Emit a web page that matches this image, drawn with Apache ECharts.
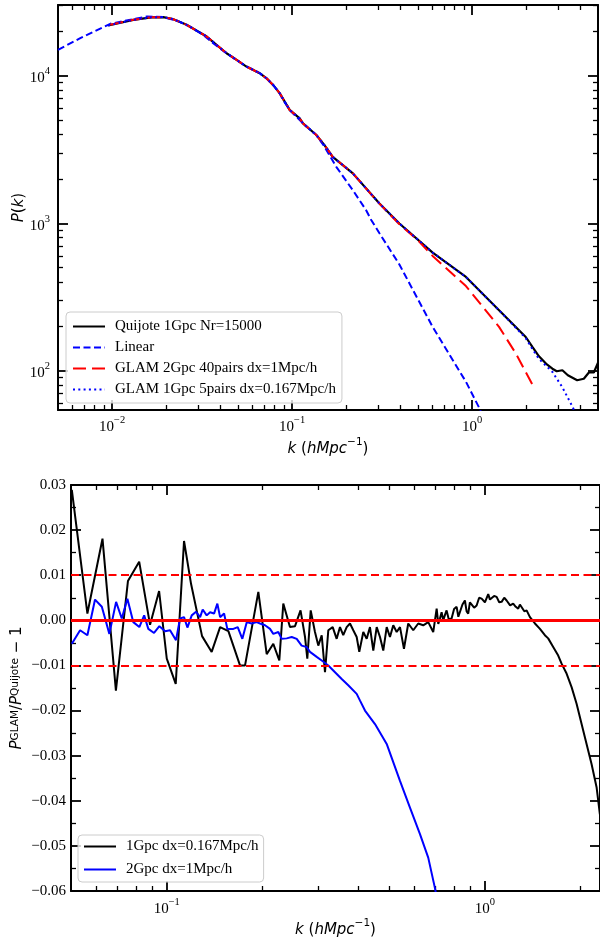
<!DOCTYPE html>
<html><head><meta charset="utf-8">
<script src="https://cdn.jsdelivr.net/npm/echarts@6/dist/echarts.min.js"></script>
<style>html,body{margin:0;padding:0;background:#fff}#c{width:600px;height:941px}</style>
</head><body><div id="c"></div>
<script>
// ---------------- DATA (top panel: P(k)) ----------------
const kLinear = [0.005, 0.00665, 0.00975, 0.0131, 0.0156, 0.0192, 0.0230, 0.0270, 0.0320, 0.0364, 0.0420, 0.0491, 0.0557, 0.0607, 0.0660, 0.0720, 0.0783, 0.0853, 0.0889, 0.0968, 0.1077, 0.1148, 0.1362, 0.1514, 0.1758, 0.2173, 0.2576, 0.2748, 0.3054, 0.394, 0.603, 0.923, 1.093, 1.15];
const pLinear = [15040, 18030, 22590, 24300, 25290, 25080, 23700, 21640, 19000, 16680, 14600, 12840, 11570, 11050, 10430, 9640, 8690, 7620, 6900, 5880, 5150, 4760, 3970, 3300, 2415, 1675, 1225, 1053, 855, 525, 198, 84, 56, 48];

const kQuijote = [0.0095, 0.0131, 0.0165, 0.0192, 0.0217, 0.0259, 0.0335, 0.0432, 0.0491, 0.0557, 0.0660, 0.0720, 0.0783, 0.0853, 0.0968, 0.1100, 0.1148, 0.1362, 0.1514, 0.1680, 0.2173, 0.3054, 0.3940, 0.6030, 0.9230, 1.410, 1.984, 2.160, 2.350, 2.600, 2.790, 2.950, 3.170, 3.400, 3.830, 4.170, 4.450, 4.740, 5.000];
const pQuijote = [22000, 24040, 25000, 25080, 24330, 22230, 18500, 14260, 12840, 11570, 10430, 9640, 8690, 7620, 5880, 5150, 4760, 3970, 3380, 2825, 2180, 1362, 996, 632, 432, 257, 169, 145, 125, 110, 103, 99, 100.5, 93, 86, 88, 97, 97, 113];

const kGlam2 = [0.00975, 0.0131, 0.0165, 0.0192, 0.0217, 0.0259, 0.0335, 0.0432, 0.0491, 0.0557, 0.0660, 0.0720, 0.0783, 0.0853, 0.0968, 0.1100, 0.1148, 0.1362, 0.1514, 0.1680, 0.2173, 0.3054, 0.3940, 0.5000, 0.6030, 0.9230, 1.410, 1.745, 2.200];
const pGlam2 = [22230, 24040, 25000, 25080, 24330, 22230, 18500, 14260, 12840, 11570, 10430, 9640, 8690, 7620, 5880, 5150, 4760, 3970, 3380, 2825, 2180, 1358, 985, 765, 600, 375, 198, 131, 77];

const kGlam1 = [0.0095, 0.0131, 0.0165, 0.0192, 0.0217, 0.0259, 0.0335, 0.0432, 0.0491, 0.0557, 0.0660, 0.0720, 0.0783, 0.0853, 0.0968, 0.1100, 0.1148, 0.1362, 0.1514, 0.1680, 0.2173, 0.3054, 0.3940, 0.6030, 0.9230, 1.410, 1.984, 2.160, 2.350, 2.790, 3.170, 3.630, 3.750];
const pGlam1 = [22000, 24040, 25000, 25080, 24330, 22230, 18500, 14260, 12840, 11570, 10430, 9640, 8690, 7620, 5880, 5150, 4760, 3970, 3380, 2825, 2180, 1362, 996, 632, 432, 257, 166, 140, 120, 98, 77, 56, 51];

// ---------------- DATA (bottom panel: ratio - 1) ----------------
const kRatio1 = [0.0503, 0.0563, 0.0628, 0.0692, 0.0755, 0.0819, 0.0886, 0.0946, 0.1000, 0.1067,
  0.1133, 0.1192, 0.1291, 0.1384, 0.1471, 0.1562, 0.1699, 0.1762, 0.1940, 0.2061,
  0.2162, 0.2258, 0.2324, 0.2439, 0.2530, 0.2633, 0.2720, 0.2765, 0.2834, 0.2923,
  0.2994, 0.3069, 0.3143, 0.3219, 0.3323, 0.3420, 0.3503, 0.3587, 0.3677, 0.3766,
  0.3857, 0.3953, 0.4028, 0.4147, 0.4250, 0.4352, 0.4458, 0.4569, 0.4679, 0.4792,
  0.4912, 0.5030, 0.5151, 0.5280, 0.5408, 0.5566, 0.5741, 0.5953, 0.6172, 0.6398,
  0.6635, 0.6879,
  0.7052, 0.7135, 0.7222, 0.7310, 0.7395, 0.7490, 0.7578, 0.7700, 0.7856, 0.8000,
  0.8149, 0.8250, 0.8346, 0.8500, 0.8652, 0.8760, 0.8862, 0.8970, 0.9083, 0.9250,
  0.9417, 0.9590, 0.9764, 1.0000, 1.0242, 1.0370, 1.0496, 1.0690, 1.0884, 1.1090,
  1.1286, 1.1500, 1.1701, 1.2000, 1.2272, 1.2500, 1.2724, 1.2880, 1.3041, 1.3300,
  1.3522, 1.3852, 1.4363, 1.4893, 1.5434, 1.5808, 1.6392, 1.6997,
  1.7418, 1.8059, 1.8726, 1.9415, 2.0617, 2.1644, 2.2437, 2.2983];
const ratio1 = [0.0289, 0.0015, 0.0181, -0.0156, 0.0087, 0.0130, -0.0010, 0.0065, -0.0085, -0.0141,
  0.0176, 0.0081, -0.0035, -0.0070, -0.0015, -0.0024, -0.0100, -0.0100, 0.0063, -0.0075,
  -0.0052, -0.0089, 0.0037, -0.0015, -0.0013, 0.0022, -0.0037, -0.0085, 0.0022, -0.0026,
  -0.0056, -0.0033, -0.0115, -0.0022, -0.0015, -0.0041, -0.0015, -0.0033, -0.0015, -0.0007,
  -0.0022, -0.0037, -0.0070, -0.0026, -0.0041, -0.0015, -0.0067, -0.0015, -0.0037, -0.0067,
  -0.0015, -0.0037, -0.0011, -0.0026, -0.0015, -0.0063, -0.0007, -0.0022, -0.0007, -0.0011,
  -0.0004, -0.0026,
  0.0026, -0.0008, 0.0004, 0.0018, 0.0000, 0.0012, 0.0022, 0.0002, 0.0004, 0.0025,
  0.0030, 0.0008, 0.0011, 0.0035, 0.0044, 0.0020, 0.0015, 0.0040, 0.0044, 0.0028,
  0.0033, 0.0050, 0.0048, 0.0040, 0.0058, 0.0046, 0.0044, 0.0054, 0.0052, 0.0040,
  0.0041, 0.0050, 0.0044, 0.0033, 0.0037, 0.0030, 0.0026, 0.0035, 0.0033, 0.0020,
  0.0022, 0.0007, -0.0007, -0.0019, -0.0033, -0.0040, -0.0059, -0.0078,
  -0.0096, -0.0118, -0.0148, -0.0185, -0.0259, -0.0319, -0.0370, -0.0430];

const kRatio2 = [0.0503, 0.0534, 0.0563, 0.0595, 0.0625, 0.0660, 0.0693, 0.0722, 0.0752, 0.0785,
  0.0820, 0.0849, 0.0875, 0.0912, 0.0948, 0.0988, 0.1024, 0.1069, 0.1101, 0.1133,
  0.1161, 0.1198, 0.1236, 0.1273, 0.1297, 0.1335, 0.1368, 0.1408, 0.1442, 0.1471,
  0.1514, 0.1550, 0.1619, 0.1671, 0.1728, 0.1784, 0.1849, 0.1917, 0.1964, 0.2036,
  0.2111, 0.2162, 0.2242, 0.2297, 0.2382, 0.2470, 0.2561, 0.2654, 0.2753, 0.2819,
  0.2960, 0.3069, 0.3219, 0.3379, 0.3547, 0.3719, 0.3953, 0.4050, 0.4198, 0.4513,
  0.4912, 0.5408, 0.5813, 0.6250, 0.6635, 0.6963, 0.7100];
const ratio2 = [-0.0052, -0.0022, -0.0033, 0.0046, 0.0030, -0.0030, 0.0041, 0.0004, 0.0048, -0.0004,
  -0.0015, 0.0011, -0.0019, -0.0028, -0.0013, -0.0024, -0.0022, -0.0044, 0.0004, 0.0007,
  -0.0016, 0.0011, 0.0019, 0.0007, 0.0024, 0.0011, 0.0018, 0.0015, 0.0037, 0.0007,
  0.0015, -0.0019, -0.0019, -0.0015, -0.0041, -0.0004, -0.0007, -0.0004, -0.0007, -0.0011,
  -0.0019, -0.0030, -0.0026, -0.0041, -0.0040, -0.0037, -0.0041, -0.0056, -0.0059, -0.0070,
  -0.0081, -0.0089, -0.0100, -0.0115, -0.0130, -0.0144, -0.0163, -0.0178, -0.0200, -0.0230,
  -0.0274, -0.0356, -0.0415, -0.0474, -0.0526, -0.0593, -0.0625];

const refLevels = [0, 0.01, -0.01];

// ---------------- AXES / TICKS ----------------
const topXRange = [0.005, 5];
const topYRange = [54, 30300];
const botXRange = [0.05, 2.3];
const botYRange = [-0.06, 0.03];
const topXTicks = [0.01, 0.1, 1];
const topYTicks = [100, 1000, 10000];
const botXTicks = [0.1, 1];
const botYTicks = [-0.06, -0.05, -0.04, -0.03, -0.02, -0.01, 0, 0.01, 0.02, 0.03];
const botYMinor = [-0.055, -0.045, -0.035, -0.025, -0.015, -0.005, 0.005, 0.015, 0.025];

const namesTop = ['Quijote 1Gpc Nr=15000', 'Linear', 'GLAM 2Gpc 40pairs dx=1Mpc/h', 'GLAM 1Gpc 5pairs dx=0.167Mpc/h'];
const namesBot = ['1Gpc dx=0.167Mpc/h', '2Gpc dx=1Mpc/h'];

const L10 = Math.log10;
function logMinor(lo, hi) {
  const out = [];
  for (let d = Math.floor(L10(lo)); d <= Math.ceil(L10(hi)); d++) {
    for (let m = 2; m <= 9; m++) {
      const v = m * Math.pow(10, d);
      if (v > lo * 1.0001 && v < hi * 0.9999) out.push(L10(v));
    }
  }
  return out;
}
const SERIF = 'Liberation Serif';
const SANS = 'DejaVu Sans';
const richTick = {
  b: {fontFamily: SERIF, fontSize: 15, color: '#000', lineHeight: 20, verticalAlign: 'bottom'},
  s: {fontFamily: SERIF, fontSize: 10.5, color: '#000', lineHeight: 8, verticalAlign: 'top'}
};
const supFmt = v => { const e = Math.round(v); return '{b|10}{s|' + (e < 0 ? '\u2212' + (-e) : String(e)) + '}'; };
const linFmt = v => { const s = (Math.abs(v) < 1e-9 ? 0 : v).toFixed(2); return s.replace('-', '\u2212'); };

const richName = {
  i: {fontFamily: SANS, fontStyle: 'italic', fontSize: 15, color: '#000', lineHeight: 20, verticalAlign: 'bottom'},
  n: {fontFamily: SANS, fontSize: 15, color: '#000', lineHeight: 20, verticalAlign: 'bottom'},
  s: {fontFamily: SANS, fontSize: 10.5, color: '#000', lineHeight: 8, verticalAlign: 'top'}
};
const richNameSub = {
  i: {fontFamily: SANS, fontStyle: 'italic', fontSize: 15, color: '#000', lineHeight: 18, verticalAlign: 'top'},
  n: {fontFamily: SANS, fontSize: 15, color: '#000', lineHeight: 18, verticalAlign: 'top'},
  u: {fontFamily: SANS, fontSize: 10.5, color: '#000', lineHeight: 28, verticalAlign: 'top'}
};

const LINE = {color: '#000', width: 2};
function axisSet(dim, g, lo, hi, majorsLog, minorsLog, opts) {
  const sides = dim === 'x' ? ['bottom', 'top'] : ['left', 'right'];
  const base = {type: 'value', gridIndex: g, min: lo, max: hi, splitLine: {show: false}, axisPointer: {show: false}, silent: true, nameMoveOverlap: false};
  const major = (pos, withLabel) => Object.assign({}, base, {
    position: pos,
    axisLine: {show: true, onZero: false, lineStyle: LINE},
    axisTick: {show: true, inside: true, length: 10, customValues: majorsLog, lineStyle: {color: '#000', width: 1.8}},
    axisLabel: withLabel ? Object.assign({show: true, customValues: majorsLog}, opts.label) : {show: false}
  }, withLabel && opts.name ? opts.name : {});
  const minor = pos => Object.assign({}, base, {
    position: pos,
    axisLine: {show: false, onZero: false},
    axisTick: {show: true, inside: true, length: 5, customValues: minorsLog, lineStyle: {color: '#000', width: 1.3}},
    axisLabel: {show: false}
  });
  return [major(sides[0], true), minor(sides[0]), major(sides[1], false), minor(sides[1])];
}

const xAxes = [].concat(
  axisSet('x', 0, L10(topXRange[0]), L10(topXRange[1]), topXTicks.map(L10), logMinor(topXRange[0], topXRange[1]), {
    label: {margin: 5, formatter: supFmt, rich: richTick},
    name: {name: '{i|k }{n|(}{i|hMpc}{s|\u22121}{n|)}', nameLocation: 'middle', nameGap: 27, nameTextStyle: {rich: richName}}
  }),
  axisSet('x', 1, L10(botXRange[0]), L10(botXRange[1]), botXTicks.map(L10), logMinor(botXRange[0], botXRange[1]), {
    label: {margin: 6, formatter: supFmt, rich: richTick},
    name: {name: '{i|k }{n|(}{i|hMpc}{s|\u22121}{n|)}', nameLocation: 'middle', nameGap: 27, nameTextStyle: {rich: richName}}
  })
);
const yAxes = [].concat(
  axisSet('y', 0, L10(topYRange[0]), L10(topYRange[1]), topYTicks.map(L10), logMinor(topYRange[0], topYRange[1]), {
    label: {margin: 8, formatter: supFmt, rich: richTick},
    name: {name: '{i|P}{n|(}{i|k}{n|)}', nameLocation: 'middle', nameGap: 31, nameTextStyle: {rich: richName}}
  }),
  axisSet('y', 1, botYRange[0], botYRange[1], botYTicks, botYMinor, {
    label: {margin: 5, formatter: linFmt, fontFamily: SERIF, fontSize: 15, color: '#000'},
    name: {name: '{i|P}{u|GLAM}{n|/}{i|P}{u|Quijote}{n| \u2212 1}', nameLocation: 'middle', nameGap: 33, nameTextStyle: {rich: richNameSub}}
  })
);

const logPairs = (ks, ps) => ks.map((k, i) => [L10(k), L10(ps[i])]);
const linPairs = (ks, vs) => ks.map((k, i) => [L10(k), vs[i]]);
const lineSeries = (name, xi, yi, data, color, width, type, z) => ({
  name, type: 'line', xAxisIndex: xi, yAxisIndex: yi, data, showSymbol: false, symbol: 'none',
  smooth: false, clip: true, silent: true, z: z || 2,
  lineStyle: {color, width, type: type || 'solid', cap: 'butt'}, itemStyle: {color, opacity: 0}
});

const legendBase = {
  orient: 'vertical', itemWidth: 32, itemHeight: 14, selectedMode: false,
  backgroundColor: 'rgba(255,255,255,0.8)', borderColor: '#cccccc', borderWidth: 1, borderRadius: 4,
  itemStyle: {opacity: 0},
  textStyle: {fontFamily: SERIF, fontSize: 15, color: '#000', padding: [0, 0, 0, 5]}
};

const option = {
  animation: false,
  backgroundColor: '#fff',
  grid: [
    {left: 58, top: 5, right: 2, height: 405, outerBoundsMode: 'none', containLabel: false},
    {left: 71, top: 485, right: 0, height: 406, outerBoundsMode: 'none', containLabel: false}
  ],
  xAxis: xAxes,
  yAxis: yAxes,
  legend: [
    Object.assign({}, legendBase, {left: 66, top: 312, itemGap: 6, padding: [7, 6, 6, 6], data: namesTop}),
    Object.assign({}, legendBase, {left: 78, top: 835, itemGap: 8, padding: [4, 5, 5, 5], data: namesBot})
  ],
  series: [
    lineSeries(namesTop[0], 0, 0, logPairs(kQuijote, pQuijote), '#000000', 2.2, 'solid', 2),
    lineSeries(namesTop[1], 0, 0, logPairs(kLinear, pLinear), '#0000ff', 2, [7, 3.5], 3),
    lineSeries(namesTop[2], 0, 0, logPairs(kGlam2, pGlam2), '#ff0000', 2, [13, 6], 4),
    lineSeries(namesTop[3], 0, 0, logPairs(kGlam1, pGlam1), '#0000ff', 2, [2, 3.3], 5),
    lineSeries(namesBot[0], 4, 4, linPairs(kRatio1, ratio1), '#000000', 2, 'solid', 2),
    lineSeries(namesBot[1], 4, 4, linPairs(kRatio2, ratio2), '#0000ff', 2, 'solid', 3),
    {
      type: 'line', xAxisIndex: 4, yAxisIndex: 4, data: [], silent: true, z: 6,
      markLine: {
        silent: true, symbol: ['none', 'none'], label: {show: false}, animation: false,
        emphasis: {disabled: true},
        data: refLevels.map(v => ({yAxis: v, lineStyle: v === 0 ? {color: '#ff0000', width: 3, type: 'solid'} : {color: '#ff0000', width: 2, type: [8, 4.5]}}))
      }
    }
  ]
};
const chart = echarts.init(document.getElementById('c'), null, {renderer: 'canvas'});
chart.setOption(option);
</script>
</body></html>
